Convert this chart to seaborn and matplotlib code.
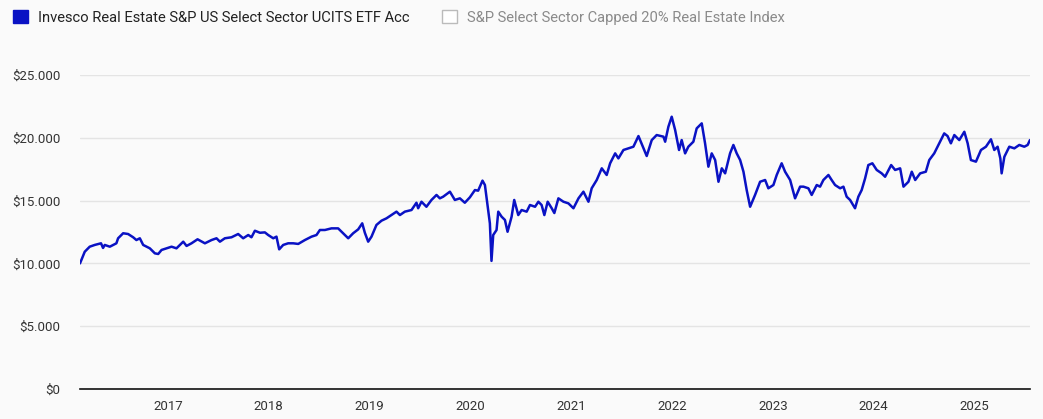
import numpy as np
import pandas as pd
import matplotlib
matplotlib.use("Agg")
import matplotlib.pyplot as plt
from matplotlib.patches import Patch
from matplotlib.ticker import FuncFormatter
import seaborn as sns

# ---- data (decimal years, growth of $10,000) ----
years = [
    2016.130, 2016.177, 2016.226, 2016.276, 2016.338, 2016.358, 2016.375, 2016.425,
    2016.490, 2016.507, 2016.557, 2016.606, 2016.656, 2016.688, 2016.722, 2016.755,
    2016.788, 2016.821, 2016.871, 2016.904, 2016.937, 2016.986, 2017.036, 2017.085,
    2017.152, 2017.185, 2017.234, 2017.294,
    2017.367, 2017.433, 2017.482, 2017.516, 2017.565, 2017.631, 2017.697, 2017.747,
    2017.797, 2017.829, 2017.863, 2017.913, 2017.962, 2017.995, 2018.045, 2018.077,
    2018.104, 2018.144, 2018.193, 2018.243, 2018.293, 2018.359, 2018.425, 2018.474,
    2018.508,
    2018.558, 2018.623, 2018.689, 2018.739, 2018.789, 2018.838, 2018.888, 2018.928,
    2018.954, 2018.987, 2019.020, 2019.069, 2019.119, 2019.169, 2019.218, 2019.268,
    2019.302, 2019.351, 2019.417, 2019.466, 2019.483, 2019.516, 2019.565, 2019.615,
    2019.665, 2019.698,
    2019.731, 2019.798, 2019.847, 2019.897, 2019.946, 2019.996, 2020.046, 2020.078,
    2020.121, 2020.145, 2020.171, 2020.194, 2020.210, 2020.227, 2020.260, 2020.277,
    2020.310, 2020.343, 2020.369, 2020.409, 2020.435, 2020.475, 2020.508, 2020.558,
    2020.591, 2020.641, 2020.674, 2020.706, 2020.733, 2020.766, 2020.806, 2020.832,
    2020.872,
    2020.922, 2020.971, 2021.021, 2021.071, 2021.120, 2021.170, 2021.202, 2021.252,
    2021.302, 2021.351, 2021.385, 2021.435, 2021.467, 2021.517, 2021.567, 2021.616,
    2021.666, 2021.716, 2021.748, 2021.798, 2021.847, 2021.914, 2021.931, 2021.963,
    2021.996, 2022.030, 2022.069,
    2022.095, 2022.129, 2022.161, 2022.211, 2022.244, 2022.294, 2022.327, 2022.360,
    2022.393, 2022.427, 2022.460, 2022.493, 2022.526, 2022.575, 2022.608, 2022.641,
    2022.675, 2022.708, 2022.740, 2022.774, 2022.823, 2022.873, 2022.923, 2022.955,
    2023.005, 2023.038, 2023.087, 2023.121, 2023.171, 2023.220, 2023.270,
    2023.303, 2023.352, 2023.385, 2023.435, 2023.468, 2023.501, 2023.551, 2023.583,
    2023.617, 2023.667, 2023.700, 2023.732, 2023.766, 2023.815, 2023.848, 2023.881,
    2023.915, 2023.947, 2023.987, 2024.030, 2024.079, 2024.113, 2024.173, 2024.212,
    2024.262, 2024.295, 2024.344, 2024.377, 2024.411, 2024.460,
    2024.516, 2024.550, 2024.599, 2024.649, 2024.698, 2024.731, 2024.764, 2024.798,
    2024.847, 2024.897, 2024.930, 2024.962, 2025.012, 2025.062, 2025.111, 2025.161,
    2025.194, 2025.227, 2025.254, 2025.267, 2025.294, 2025.343, 2025.393, 2025.442,
    2025.492, 2025.525, 2025.548,
]
fund_values = [
    10000, 10930, 11330, 11470, 11600, 11230, 11470, 11330,
    11600, 12000, 12400, 12340, 12080, 11860, 12000, 11470,
    11330, 11200, 10800, 10750, 11070, 11200, 11330, 11200,
    11730, 11390, 11600, 11920,
    11600, 11860, 12000, 11730, 12000, 12080, 12340, 12000,
    12260, 12080, 12600, 12440, 12470, 12260, 12000, 12130,
    11120, 11470, 11600, 11600, 11550, 11860, 12130, 12260,
    12660,
    12660, 12790, 12790, 12400, 12000, 12400, 12710, 13190,
    12440, 11730, 12130, 13060, 13400, 13590, 13850, 14120,
    13850, 14120, 14250, 14830, 14390, 14910, 14510, 15050,
    15450, 15180,
    15310, 15710, 15050, 15180, 14830, 15260, 15840, 15790,
    16590, 16240, 14650, 13190, 10200, 12260, 12660, 14120,
    13720, 13460, 12520, 13720, 15050, 13850, 14250, 14120,
    14650, 14510, 14910, 14650, 13850, 14910, 14390, 14010,
    15180,
    14910, 14780, 14390, 15180, 15710, 14910, 15980, 16640,
    17570, 17040, 17970, 18760, 18360, 19030, 19160, 19290,
    20140, 19160, 18550, 19820, 20220, 20090, 19690, 20880,
    21680, 20620, 19030,
    19820, 18760, 19290, 19690, 20750, 21150, 19560, 17700,
    18760, 18230, 16500, 17570, 17170, 18760, 19430, 18760,
    18230, 17300, 15840, 14510, 15450, 16500, 16640, 15980,
    16240, 17040, 17970, 17300, 16640, 15180, 16110,
    16110, 15980, 15450, 16240, 16110, 16640, 17040, 16640,
    16240, 15980, 16110, 15310, 15050, 14390, 15310, 15840,
    16770, 17830, 17970, 17440, 17170, 16900, 17830, 17440,
    17570, 16110, 16500, 17300, 16640, 17170,
    17300, 18230, 18760, 19560, 20350, 20140, 19560, 20220,
    19820, 20480, 19560, 18230, 18100, 19030, 19290, 19880,
    19030, 19290, 18360, 17170, 18490, 19290, 19160, 19430,
    19290, 19430, 19820,
]
tick_years = [2017, 2018, 2019, 2020, 2021, 2022, 2023, 2024, 2025]
y_ticks = [0, 5000, 10000, 15000, 20000, 25000]
series_labels = ["Invesco Real Estate S&P US Select Sector UCITS ETF Acc",
                 "S&P Select Sector Capped 20% Real Estate Index"]


def to_date(y):
    yr = int(np.floor(y))
    start = pd.Timestamp(year=yr, month=1, day=1)
    days = (pd.Timestamp(year=yr + 1, month=1, day=1) - start).days
    return start + pd.Timedelta(days=(y - yr) * days)


df = pd.DataFrame({"date": [to_date(y) for y in years], "value": fund_values})

BLUE = "#0a12c4"
BG = "#fafafa"

sns.set_style("white")
plt.rcParams["font.family"] = ["Roboto", "DejaVu Sans"]

fig = plt.figure(figsize=(10.43, 4.19), dpi=100, facecolor=BG)
ax = fig.add_axes([0.0767, 0.0716, 0.9108, 0.7494])
ax.set_facecolor(BG)

sns.lineplot(data=df, x="date", y="value", color=BLUE, linewidth=1.8, ax=ax)

ax.set_xlim(df["date"].iloc[0], df["date"].iloc[-1])
ax.set_ylim(0, 25000)
ax.set_yticks(y_ticks)
ax.yaxis.set_major_formatter(FuncFormatter(lambda v, p: "$" + f"{int(v):,}".replace(",", ".")))
ax.set_xticks([pd.Timestamp(year=y, month=1, day=1) for y in tick_years])
ax.set_xticklabels([str(y) for y in tick_years])
ax.tick_params(axis="both", length=0, labelsize=9.5, colors="#333333")
ax.tick_params(axis="y", pad=14)
ax.tick_params(axis="x", pad=8)
ax.set_xlabel("")
ax.set_ylabel("")
ax.grid(axis="y", color="#e4e4e4", linewidth=1)
ax.grid(axis="x", visible=False)
for s in ["left", "right", "top"]:
    ax.spines[s].set_visible(False)
ax.spines["bottom"].set_color("#111111")
ax.spines["bottom"].set_linewidth(1.2)
ax.spines["bottom"].set_zorder(5)

handles = [Patch(facecolor=BLUE, edgecolor=BLUE),
           Patch(facecolor="white", edgecolor="#bbbbbb", linewidth=1)]
leg = fig.legend(handles, series_labels, loc="upper left", bbox_to_anchor=(0.0, 1.008),
                 ncol=2, frameon=False, handlelength=1.0, handleheight=1.0,
                 handletextpad=0.7, columnspacing=2.2, fontsize=10.6)
leg.get_texts()[0].set_color("#222222")
leg.get_texts()[1].set_color("#8a8a8a")

fig.savefig("out.png", dpi=100, facecolor=BG)
